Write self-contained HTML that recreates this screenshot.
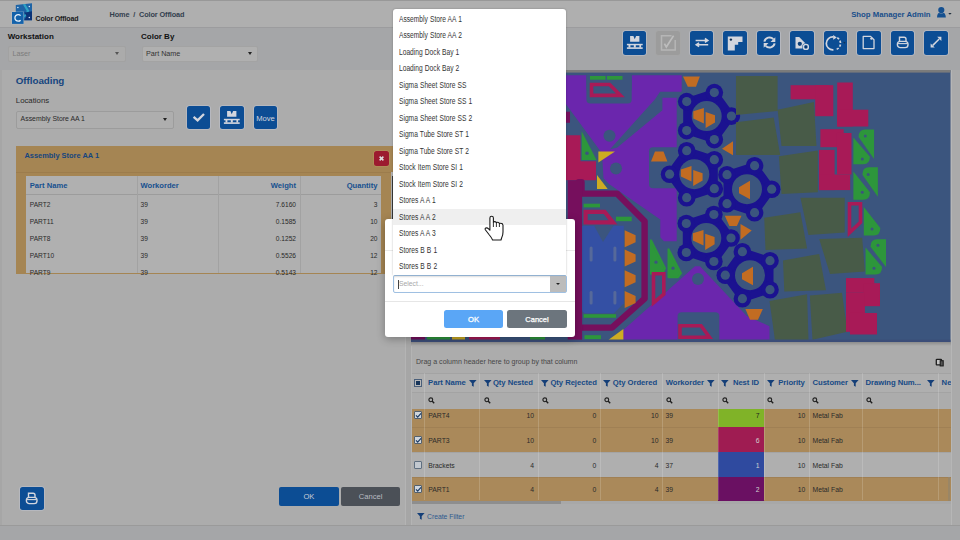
<!DOCTYPE html>
<html><head><meta charset="utf-8">
<style>
*{box-sizing:border-box;margin:0;padding:0}
html,body{width:960px;height:540px;overflow:hidden;background:#a6a6a6;font-family:"Liberation Sans",sans-serif;color:#333}
.a{position:absolute}
.t{position:absolute;line-height:1;white-space:nowrap}
.b{font-weight:bold}
.btn{position:absolute;width:23.6px;height:23.6px;background:#0c4d94;border-radius:2.5px;box-shadow:0 0 0 .8px #b9bcc4}
.btn svg{position:absolute;left:0;top:0}
.sel{position:absolute;background:#afafaf;border:1px solid #9c9c9c;border-radius:2px}
.car{position:absolute;width:0;height:0;border-left:2.5px solid transparent;border-right:2.5px solid transparent;border-top:3px solid #222}
.dd div{position:absolute;left:0;width:173px;height:16.5px;font-size:8.4px;line-height:17.8px;color:#333}.dd span{position:absolute;left:5.3px;top:0;white-space:nowrap;word-spacing:.3px;transform:scaleX(.795);transform-origin:0 0}
</style></head><body>
<div id="page" class="a" style="left:0;top:0;width:960px;height:540px">
  <!-- header -->
  <div class="a" style="left:0;top:0;width:960px;height:28px;background:#afafaf;border-top:1.5px solid #989898;border-bottom:1px solid #9c9c9e"></div>
  <!-- toolbar row -->
  <div class="a" style="left:0;top:28px;width:960px;height:42px;background:#a5a6a8"></div>

  <!-- logo -->
  <svg class="a" style="left:8px;top:0px" width="32" height="28" viewBox="8 0 32 28">
    <polygon points="15.8,4.9 32,3.3 32,20.2 24,20.2 24,11.9 15.8,11.9" fill="#1e64a6"/>
    <polygon points="22.8,4.3 25.2,4.1 29.4,11 24.6,17.4 23,17 26.8,11" fill="#2fa3c4"/>
    <polygon points="24.2,12.5 28,12 32,11.2 32,20.2 24.2,20.2 26.6,16" fill="#0b3377"/>
    <circle cx="17.9" cy="7.5" r=".75" fill="#d8ecff"/><circle cx="29.3" cy="6.5" r=".75" fill="#d8ecff"/>
    <circle cx="29.3" cy="17.6" r=".75" fill="#d8ecff"/>
    <rect x="11.6" y="11.6" width="12.4" height="12.6" fill="#cfe0f0" opacity=".5"/>
    <rect x="12" y="12" width="11.6" height="11.9" fill="#1462aa"/>
    <path d="M20.6,15.6 A3.3,3.3 0 1 0 20.6,20.2" stroke="#e8f2fb" stroke-width="1.3" fill="none"/>
  </svg>
  <div class="t b" style="left:35.5px;top:14.5px;font-size:7px;letter-spacing:-0.15px;color:#1b1b1b">Color Offload</div>
  <div class="t" style="left:109.5px;top:11px;font-size:7.3px;color:#33404e;font-weight:bold;letter-spacing:-0.1px">Home&nbsp;&nbsp;/&nbsp;&nbsp;Color Offload</div>
  <div class="t b" style="left:851.2px;top:11.1px;font-size:7.75px;color:#184e8a">Shop Manager Admin</div>
  <svg class="a" style="left:936px;top:6px" width="18" height="13" viewBox="0 0 18 13">
    <path d="M1,11.6 Q1,6.2 5.3,6.2 Q9.8,6.2 9.8,11.6 Z" fill="#15508f"/>
    <circle cx="5.3" cy="4.1" r="3.5" fill="#b0b4ba"/>
    <circle cx="5.3" cy="4.1" r="3.1" fill="#15508f"/>
    <polygon points="12.3,7 15.6,7 13.95,8.8" fill="#1a2a3a"/>
  </svg>
  <!-- toolbar -->
  <div class="t b" style="left:7.7px;top:33.2px;font-size:8px;color:#111">Workstation</div>
  <div class="sel" style="left:7.5px;top:45.8px;width:118px;height:16.2px;background:#ababab;border-color:#a2a2a2"></div>
  <div class="t" style="left:12.5px;top:50px;font-size:7.2px;color:#7c7c7c">Laser</div>
  <div class="car" style="left:114.5px;top:52.4px;border-top-color:#555"></div>
  <div class="t b" style="left:141px;top:33.2px;font-size:8px;color:#111">Color By</div>
  <div class="sel" style="left:141.5px;top:45.5px;width:116.5px;height:16.3px;background:#b0b0b0;border-color:#a3a3a3"></div>
  <div class="t" style="left:146px;top:50px;font-size:7.2px;color:#333">Part Name</div>
  <div class="car" style="left:247.5px;top:52px"></div>
  <!-- right toolbar buttons -->
  <div class="btn" style="left:622.5px;top:31px"><svg width="24" height="24" viewBox="0 0 24 24"><path d="M7.1,5.1H10.4L11.75,8.3L13.1,5.1H16.4V10.8H7.1Z" fill="#d3d6de"/><rect x="3.9" y="12.8" width="15.8" height="1.5" fill="#d3d6de"/><rect x="3.9" y="16.3" width="15.8" height="1.6" fill="#d3d6de"/><rect x="5.5" y="14" width="1.9" height="2.6" fill="#d3d6de"/><rect x="10.8" y="14" width="2" height="2.6" fill="#d3d6de"/><rect x="16.4" y="14" width="1.7" height="2.6" fill="#d3d6de"/></svg></div>
  <div class="btn" style="left:656px;top:31px;background:#9c9c9c;box-shadow:0 0 0 .8px #a6a6a6"><svg width="24" height="24" viewBox="0 0 24 24"><path d="M15.6,4.7H5.5V19H19.2V9" fill="none" stroke="#b6b6b6" stroke-width="1.5"/><path d="M8.4,12.6L10.3,16L17.6,4.6" fill="none" stroke="#bdbdbd" stroke-width="1.7"/></svg></div>
  <div class="btn" style="left:689.5px;top:31px"><svg width="24" height="24" viewBox="0 0 24 24"><path d="M5.6,9.4H17M14.9,7.5L17.8,9.4L14.9,11.3" fill="none" stroke="#d3d6de" stroke-width="1.5"/><path d="M18.2,13.8H6.8M9.1,11.9L6.2,13.8L9.1,15.7" fill="none" stroke="#d3d6de" stroke-width="1.5"/></svg></div>
  <div class="btn" style="left:723px;top:31px"><svg width="24" height="24" viewBox="0 0 24 24"><path d="M4.8,5.6H19.5V10.9H15.2V13.8H11.8V19.6H4.8Z" fill="#d3d6de"/><circle cx="7.9" cy="8.6" r="1.2" fill="#0a2a50"/></svg></div>
  <div class="btn" style="left:756.5px;top:31px"><svg width="24" height="24" viewBox="0 0 24 24"><path d="M7.38,10.6A5.2,5.2 0 0 1 16.3,8.1" fill="none" stroke="#d3d6de" stroke-width="2"/><path d="M18.3,6.2V11H13.5Z" fill="#d3d6de"/><path d="M17.62,12.4A5.2,5.2 0 0 1 8.7,14.9" fill="none" stroke="#d3d6de" stroke-width="2"/><path d="M6.7,16.8V12H11.5Z" fill="#d3d6de"/></svg></div>
  <div class="btn" style="left:790px;top:31px"><svg width="24" height="24" viewBox="0 0 24 24"><path d="M5.5,6H9.2L15.6,12.4L12.6,17.6H5.5Z" fill="#d3d6de"/><circle cx="9.8" cy="12.8" r="2.1" fill="#0c3f7a"/><circle cx="15.9" cy="15.9" r="3.6" fill="#0c4d94"/><circle cx="15.9" cy="15.9" r="2.5" fill="none" stroke="#d3d6de" stroke-width="1.4"/><circle cx="15.9" cy="15.9" r="1" fill="#0c3060"/></svg></div>
  <div class="btn" style="left:823.5px;top:31px"><svg width="24" height="24" viewBox="0 0 24 24"><path d="M9.43,5.93A6.5,6.5 0 1 0 9.43,18.87" fill="none" stroke="#d3d6de" stroke-width="1.7"/><path d="M13.25,6.77A6.5,6.5 0 0 1 11.13,18.8" fill="none" stroke="#d3d6de" stroke-width="1.7" stroke-dasharray="2.3 1.6"/><path d="M9.2,4V8.8L12.8,6.4Z" fill="#d3d6de"/><path d="M19.4,11.4H21.4L20.4,12.6Z" fill="#1a1a1a"/></svg></div>
  <div class="btn" style="left:857px;top:31px"><svg width="24" height="24" viewBox="0 0 24 24"><path d="M6.2,5.4H13.6L17,8.8V17.6H6.2Z" fill="none" stroke="#d3d6de" stroke-width="1.3" stroke-linejoin="round"/><circle cx="14.4" cy="7.6" r="1.2" fill="#d3d6de"/></svg></div>
  <div class="btn" style="left:890.5px;top:31px"><svg width="24" height="24" viewBox="0 0 24 24"><path d="M8.5,10.6V6.2H13.1Q15,6.2 15,8.1V10.6" fill="none" stroke="#d3d6de" stroke-width="1.4"/><rect x="6.4" y="10.4" width="10.6" height="6.2" rx="2.9" fill="none" stroke="#d3d6de" stroke-width="1.4"/><path d="M7,12.6H16.4" stroke="#d3d6de" stroke-width="1.1"/></svg></div>
  <div class="btn" style="left:924px;top:31px"><svg width="24" height="24" viewBox="0 0 24 24"><path d="M8.8,14.4L15.2,8" stroke="#d3d6de" stroke-width="1.5"/><path d="M13.2,5.8H17.4V10Z" fill="#d3d6de"/><path d="M6.6,12.4V16.6H10.8Z" fill="#d3d6de"/></svg></div>
  <!-- left panel -->
  <div class="a" style="left:1.5px;top:70px;width:404.7px;height:454.7px;background:#acacac;border-right:1px solid #b4b4b4"></div>

  <!-- left panel content -->
  <div class="t b" style="left:15.8px;top:75.9px;font-size:9.8px;color:#16467f;letter-spacing:-0.05px">Offloading</div>
  <div class="t" style="left:15.8px;top:96.8px;font-size:7.8px;color:#2a2a2a">Locations</div>
  <div class="sel" style="left:16px;top:110.5px;width:157.5px;height:18px;background:#aeaeae;border-color:#9c9c9c"></div>
  <div class="t" style="left:20.6px;top:116px;font-size:6.9px;color:#2a2a2a">Assembly Store AA 1</div>
  <div class="car" style="left:162.5px;top:118px"></div>
  <div class="btn" style="left:186.8px;top:105.8px"><svg width="24" height="24" viewBox="0 0 24 24"><path d="M6.6,10.8L10.6,14.4L17,8" fill="none" stroke="#d3d6de" stroke-width="2.3"/></svg></div>
  <div class="btn" style="left:220.3px;top:105.8px"><svg width="24" height="24" viewBox="0 0 24 24"><path d="M7.1,5.1H10.4L11.75,8.3L13.1,5.1H16.4V10.8H7.1Z" fill="#d3d6de"/><rect x="3.9" y="12.8" width="15.8" height="1.5" fill="#d3d6de"/><rect x="3.9" y="16.3" width="15.8" height="1.6" fill="#d3d6de"/><rect x="5.5" y="14" width="1.9" height="2.6" fill="#d3d6de"/><rect x="10.8" y="14" width="2" height="2.6" fill="#d3d6de"/><rect x="16.4" y="14" width="1.7" height="2.6" fill="#d3d6de"/></svg></div>
  <div class="btn" style="left:253.8px;top:105.8px"></div>
  <div class="t" style="left:256.2px;top:114.6px;font-size:7.65px;color:#d3d6de">Move</div>

  <!-- orange panel -->
  <div class="a" style="left:16px;top:146.3px;width:377px;height:128px;background:#a58553"></div>
  <div class="a" style="left:16px;top:171.5px;width:377px;height:1px;background:#9c7c4c"></div>
  <div class="t b" style="left:24.4px;top:152.4px;font-size:7.45px;color:#16467f">Assembly Store AA 1</div>
  <div class="a" style="left:373.8px;top:151px;width:14.8px;height:15px;background:#9c1b2f;border-radius:2.5px;box-shadow:0 0 0 .6px #b8945e"></div>
  <svg class="a" style="left:373.8px;top:151px" width="15" height="15" viewBox="0 0 15 15"><path d="M5.6,5.6L9.4,9.4M9.4,5.6L5.6,9.4" stroke="#dcdcdc" stroke-width="1.5"/></svg>
  <!-- table -->
  <div class="a" style="left:26px;top:175.8px;width:355px;height:97px;background:#b0b0b0;overflow:hidden">
    <div class="a" style="left:0;top:18.2px;width:355px;height:1px;background:#9c9c9c"></div>
    <div class="a" style="left:110.5px;top:0;width:1px;height:98px;background:#a2a2a2"></div>
    <div class="a" style="left:191.6px;top:0;width:1px;height:98px;background:#a2a2a2"></div>
    <div class="a" style="left:274px;top:0;width:1px;height:98px;background:#a2a2a2"></div>
  </div>
  <div class="a" style="left:390.7px;top:172px;width:2.5px;height:101.6px;background:#b0b0b0"></div><div class="a" style="left:391.9px;top:176px;width:1.8px;height:60px;background:#3a3a3a"></div>
  <div class="t b" style="left:29.8px;top:182.2px;font-size:7.6px;color:#17508f">Part Name</div>
  <div class="t b" style="left:140.5px;top:182.2px;font-size:7.6px;color:#17508f">Workorder</div>
  <div class="t b" style="right:664px;top:182.2px;font-size:7.6px;color:#17508f">Weight</div>
  <div class="t b" style="right:582.5px;top:182.2px;font-size:7.6px;color:#17508f">Quantity</div>
  <div class="t" style="left:29.8px;top:201.90px;font-size:6.6px;color:#2a2a2a">PART2</div>
  <div class="t" style="left:140.5px;top:201.90px;font-size:6.6px;color:#2a2a2a">39</div>
  <div class="t" style="right:664px;top:201.90px;font-size:6.6px;color:#2a2a2a">7.6160</div>
  <div class="t" style="right:582.5px;top:201.90px;font-size:6.6px;color:#2a2a2a">3</div>
  <div class="t" style="left:29.8px;top:219.00px;font-size:6.6px;color:#2a2a2a">PART11</div>
  <div class="t" style="left:140.5px;top:219.00px;font-size:6.6px;color:#2a2a2a">39</div>
  <div class="t" style="right:664px;top:219.00px;font-size:6.6px;color:#2a2a2a">0.1585</div>
  <div class="t" style="right:582.5px;top:219.00px;font-size:6.6px;color:#2a2a2a">10</div>
  <div class="t" style="left:29.8px;top:236.00px;font-size:6.6px;color:#2a2a2a">PART8</div>
  <div class="t" style="left:140.5px;top:236.00px;font-size:6.6px;color:#2a2a2a">39</div>
  <div class="t" style="right:664px;top:236.00px;font-size:6.6px;color:#2a2a2a">0.1252</div>
  <div class="t" style="right:582.5px;top:236.00px;font-size:6.6px;color:#2a2a2a">20</div>
  <div class="t" style="left:29.8px;top:253.10px;font-size:6.6px;color:#2a2a2a">PART10</div>
  <div class="t" style="left:140.5px;top:253.10px;font-size:6.6px;color:#2a2a2a">39</div>
  <div class="t" style="right:664px;top:253.10px;font-size:6.6px;color:#2a2a2a">0.5526</div>
  <div class="t" style="right:582.5px;top:253.10px;font-size:6.6px;color:#2a2a2a">12</div>
  <div class="t" style="left:29.8px;top:270.10px;font-size:6.6px;color:#2a2a2a">PART9</div>
  <div class="t" style="left:140.5px;top:270.10px;font-size:6.6px;color:#2a2a2a">39</div>
  <div class="t" style="right:664px;top:270.10px;font-size:6.6px;color:#2a2a2a">0.5143</div>
  <div class="t" style="right:582.5px;top:270.10px;font-size:6.6px;color:#2a2a2a">12</div>

  <!-- left bottom buttons -->
  <div class="btn" style="left:20px;top:486.8px"><svg width="24" height="24" viewBox="0 0 24 24"><path d="M8.5,10.6V6.2H13.1Q15,6.2 15,8.1V10.6" fill="none" stroke="#d3d6de" stroke-width="1.4"/><rect x="6.4" y="10.4" width="10.6" height="6.2" rx="2.9" fill="none" stroke="#d3d6de" stroke-width="1.4"/><path d="M7,12.6H16.4" stroke="#d3d6de" stroke-width="1.1"/></svg></div>
  <div class="a" style="left:279px;top:486.8px;width:59.8px;height:18.8px;background:#0c4d94;border-radius:2px"></div>
  <div class="t" style="left:279px;width:59.8px;text-align:center;top:492.6px;font-size:7.6px;color:#c9cdd6">OK</div>
  <div class="a" style="left:340.8px;top:486.8px;width:59.6px;height:18.8px;background:#4b5057;border-radius:2px"></div>
  <div class="t" style="left:340.8px;width:59.6px;text-align:center;top:492.6px;font-size:7.6px;color:#b8bcc2">Cancel</div>
  <!-- right panel -->
  <div class="a" style="left:950.5px;top:70px;width:9.5px;height:454.7px;background:#aaaaaa;border-left:1px solid #b6b6b6"></div>
  <div class="a" style="left:411px;top:70px;width:539.5px;height:454.7px;background:#acacac;border-left:1px solid #b4b4b4"></div>

  <!-- nest --><svg class="a" style="left:411px;top:69.8px" width="539.5" height="273.2" viewBox="411 69.8 539.5 273.2"><rect x="411.0" y="70.0" width="539.5" height="273.0" fill="#3b557e"/><rect x="427.0" y="336.0" width="23.0" height="3.5" fill="#2d963b"/><rect x="452.0" y="336.0" width="13.0" height="3.5" fill="#cdac22"/><rect x="469.0" y="336.0" width="31.0" height="3.5" fill="#a81a57"/><rect x="530.0" y="336.0" width="15.0" height="3.5" fill="#2d963b"/><rect x="411.0" y="336.0" width="14.0" height="3.5" fill="#760f5d"/><polygon points="566.0,75.0 681.7,75.0 681.7,91.0 676.7,97.5 676.7,241.0 664.0,241.0 660.3,237.0 660.3,219.4 609.0,183.8 603.5,178.0 602.0,153.0 566.0,104.0" fill="#6b26ad" stroke="#6b26ad" stroke-width="0"/><rect x="586.4" y="73.0" width="45.3" height="30.2" fill="#3b557e" rx="4"/><rect x="586.4" y="73.0" width="45.3" height="17.0" fill="#3b557e"/><polygon points="681.7,91.5 681.7,97.6 662.4,97.6 662.4,110.0 617.0,147.5 610.0,149.0 655.0,99.0 660.0,91.5" fill="#3b557e"/><rect x="649.0" y="147.0" width="31.0" height="41.0" fill="#3b557e" rx="4"/><polygon points="655.0,151.2 663.5,151.2 667.4,161.4 651.0,161.4" fill="#c26c22"/><circle cx="609.5" cy="135.6" r="6.0" fill="#3b557e"/><circle cx="616.0" cy="168.3" r="6.0" fill="#3b557e"/><polygon points="623.0,339.5 623.0,330.0 695.0,266.0 700.0,266.0 747.0,316.0 769.5,326.0 769.5,339.5" fill="#6b26ad"/><rect x="677.6" y="312.0" width="41.7" height="30.0" fill="#3b557e" rx="4"/><circle cx="698.0" cy="278.7" r="6.0" fill="#3b557e"/><path d="M680,325.5H701L709.5,337H680Z" fill="none" stroke="#a81a57" stroke-width="3.6"/><rect x="590.0" y="75.8" width="15.5" height="3.7" fill="#2d963b"/><rect x="607.0" y="75.8" width="15.5" height="3.7" fill="#2d963b"/><path d="M591.5,84.3H609.6L620.5,95.2H591.5Z" fill="none" stroke="#a81a57" stroke-width="3.6"/><rect x="566.0" y="111.5" width="4.0" height="11.1" fill="#760f5d"/><polygon points="566.0,135.0 580.5,135.0 580.5,161.0 596.0,161.0 596.0,180.0 566.0,180.0" fill="#a81a57"/><polygon points="581.7,131.0 596.5,159.7 581.7,159.7" fill="#2d963b"/><circle cx="587.0" cy="153.0" r="1.8" fill="#3b557e"/><polygon points="598.4,151.3 615.0,151.3 598.4,162.4" fill="#cdac22"/><polygon points="597.0,174.8 607.7,188.7 597.0,188.7" fill="#cdac22"/><path d="M578.9,339.5V182H581.5V193.4H617L644.6,221V298.5L612,327.4H578.9" fill="none" stroke="#760f5d" stroke-width="6.4" stroke-linejoin="round"/><rect x="567.7" y="180.0" width="14.3" height="159.5" fill="#760f5d"/><rect x="583.6" y="203.5" width="16.4" height="3.7" fill="#2d963b"/><path d="M585.6,211.6H604.6L613,222.2H585.6Z" fill="none" stroke="#a81a57" stroke-width="4.2"/><rect x="616.0" y="216.5" width="15.7" height="4.5" fill="#2d963b"/><path d="M582.2,225.6H623.8V303L614,313.1H586.2Q582.2,313.1 582.2,309Z" fill="#3450a4"/><polygon points="594.1,225.6 613.4,225.6 603.0,241.9" fill="#3b557e"/><rect x="589.6" y="246.4" width="3.0" height="14.8" fill="#56699a" rx="1.5"/><rect x="589.6" y="290.9" width="3.0" height="13.3" fill="#56699a" rx="1.5"/><rect x="613.4" y="246.4" width="3.0" height="14.8" fill="#56699a" rx="1.5"/><rect x="613.4" y="290.9" width="3.0" height="13.3" fill="#56699a" rx="1.5"/><rect x="583.6" y="314.0" width="32.4" height="3.6" fill="#2d963b"/><polygon points="624.7,230.0 635.6,235.0 635.6,242.0 624.7,247.0" fill="#c26c22"/><polygon points="624.7,249.3 635.6,254.3 635.6,261.3 624.7,266.3" fill="#c26c22"/><polygon points="624.7,270.1 635.6,275.1 635.6,282.1 624.7,287.1" fill="#c26c22"/><polygon points="624.7,290.9 635.6,295.9 635.6,302.9 624.7,307.9" fill="#c26c22"/><rect x="584.5" y="335.0" width="16.5" height="4.0" fill="#2d963b"/><polygon points="608.6,339.5 623.4,328.7 623.4,339.5" fill="#cdac22"/><polygon points="651.0,240.0 665.0,268.0 662.0,273.5 651.0,273.5" fill="#2d963b" stroke="#2d963b" stroke-width="2" stroke-linejoin="round"/><polygon points="668.5,249.0 681.0,273.0 678.0,277.0 668.5,277.0" fill="#2d963b" stroke="#2d963b" stroke-width="2" stroke-linejoin="round"/><circle cx="656.0" cy="262.0" r="1.6" fill="#3b557e"/><circle cx="673.0" cy="268.0" r="1.6" fill="#3b557e"/><path d="M653.5,273.6H663.8V294L653.5,302.6Z" fill="none" stroke="#a81a57" stroke-width="3.6"/><polygon points="683.0,76.3 699.8,76.3 696.0,86.5 687.8,86.5" fill="#c26c22"/><polygon points="731.4,115.9 714.3,139.4 686.7,130.4 686.7,101.4 714.3,92.4" fill="#1b1290" stroke="#1b1290" stroke-width="7" stroke-linejoin="round"/><circle cx="731.4" cy="115.9" r="8.8" fill="#1b1290"/><circle cx="714.3" cy="139.4" r="8.8" fill="#1b1290"/><circle cx="686.7" cy="130.4" r="8.8" fill="#1b1290"/><circle cx="686.7" cy="101.4" r="8.8" fill="#1b1290"/><circle cx="714.3" cy="92.4" r="8.8" fill="#1b1290"/><circle cx="706.7" cy="115.9" r="15.0" fill="#3b557e"/><circle cx="731.4" cy="115.9" r="4.6" fill="#3b557e"/><circle cx="714.3" cy="139.4" r="4.6" fill="#3b557e"/><circle cx="686.7" cy="130.4" r="4.6" fill="#3b557e"/><circle cx="686.7" cy="101.4" r="4.6" fill="#3b557e"/><circle cx="714.3" cy="92.4" r="4.6" fill="#3b557e"/><polygon points="693.3,111.1 703.9,107.8 703.9,123.3 693.3,118.3" fill="#c26c22"/><polygon points="705.6,111.7 715.0,115.0 715.0,122.2 705.6,127.8" fill="#c26c22"/><polygon points="669.6,174.0 686.7,150.5 714.3,159.5 714.3,188.5 686.7,197.5" fill="#1b1290" stroke="#1b1290" stroke-width="7" stroke-linejoin="round"/><circle cx="669.6" cy="174.0" r="8.8" fill="#1b1290"/><circle cx="686.7" cy="150.5" r="8.8" fill="#1b1290"/><circle cx="714.3" cy="159.5" r="8.8" fill="#1b1290"/><circle cx="714.3" cy="188.5" r="8.8" fill="#1b1290"/><circle cx="686.7" cy="197.5" r="8.8" fill="#1b1290"/><circle cx="694.3" cy="174.0" r="15.0" fill="#3b557e"/><circle cx="669.6" cy="174.0" r="4.6" fill="#3b557e"/><circle cx="686.7" cy="150.5" r="4.6" fill="#3b557e"/><circle cx="714.3" cy="159.5" r="4.6" fill="#3b557e"/><circle cx="714.3" cy="188.5" r="4.6" fill="#3b557e"/><circle cx="686.7" cy="197.5" r="4.6" fill="#3b557e"/><polygon points="680.9,169.2 691.5,165.9 691.5,181.4 680.9,176.4" fill="#c26c22"/><polygon points="693.2,169.8 702.6,173.1 702.6,180.3 693.2,185.9" fill="#c26c22"/><polygon points="771.7,189.0 754.6,212.5 727.0,203.5 727.0,174.5 754.6,165.5" fill="#1b1290" stroke="#1b1290" stroke-width="7" stroke-linejoin="round"/><circle cx="771.7" cy="189.0" r="8.8" fill="#1b1290"/><circle cx="754.6" cy="212.5" r="8.8" fill="#1b1290"/><circle cx="727.0" cy="203.5" r="8.8" fill="#1b1290"/><circle cx="727.0" cy="174.5" r="8.8" fill="#1b1290"/><circle cx="754.6" cy="165.5" r="8.8" fill="#1b1290"/><circle cx="747.0" cy="189.0" r="15.0" fill="#3b557e"/><circle cx="771.7" cy="189.0" r="4.6" fill="#3b557e"/><circle cx="754.6" cy="212.5" r="4.6" fill="#3b557e"/><circle cx="727.0" cy="203.5" r="4.6" fill="#3b557e"/><circle cx="727.0" cy="174.5" r="4.6" fill="#3b557e"/><circle cx="754.6" cy="165.5" r="4.6" fill="#3b557e"/><polygon points="739.0,187.0 750.0,180.5 750.0,199.0 739.0,193.0" fill="#c26c22"/><polygon points="731.0,237.8 713.9,261.3 686.3,252.3 686.3,223.3 713.9,214.3" fill="#1b1290" stroke="#1b1290" stroke-width="7" stroke-linejoin="round"/><circle cx="731.0" cy="237.8" r="8.8" fill="#1b1290"/><circle cx="713.9" cy="261.3" r="8.8" fill="#1b1290"/><circle cx="686.3" cy="252.3" r="8.8" fill="#1b1290"/><circle cx="686.3" cy="223.3" r="8.8" fill="#1b1290"/><circle cx="713.9" cy="214.3" r="8.8" fill="#1b1290"/><circle cx="706.3" cy="237.8" r="15.0" fill="#3b557e"/><circle cx="731.0" cy="237.8" r="4.6" fill="#3b557e"/><circle cx="713.9" cy="261.3" r="4.6" fill="#3b557e"/><circle cx="686.3" cy="252.3" r="4.6" fill="#3b557e"/><circle cx="686.3" cy="223.3" r="4.6" fill="#3b557e"/><circle cx="713.9" cy="214.3" r="4.6" fill="#3b557e"/><polygon points="692.9,233.0 703.5,229.7 703.5,245.2 692.9,240.2" fill="#c26c22"/><polygon points="705.2,233.6 714.6,236.9 714.6,244.1 705.2,249.7" fill="#c26c22"/><polygon points="725.3,275.0 742.4,251.5 770.0,260.5 770.0,289.5 742.4,298.5" fill="#1b1290" stroke="#1b1290" stroke-width="7" stroke-linejoin="round"/><circle cx="725.3" cy="275.0" r="8.8" fill="#1b1290"/><circle cx="742.4" cy="251.5" r="8.8" fill="#1b1290"/><circle cx="770.0" cy="260.5" r="8.8" fill="#1b1290"/><circle cx="770.0" cy="289.5" r="8.8" fill="#1b1290"/><circle cx="742.4" cy="298.5" r="8.8" fill="#1b1290"/><circle cx="750.0" cy="275.0" r="15.0" fill="#3b557e"/><circle cx="725.3" cy="275.0" r="4.6" fill="#3b557e"/><circle cx="742.4" cy="251.5" r="4.6" fill="#3b557e"/><circle cx="770.0" cy="260.5" r="4.6" fill="#3b557e"/><circle cx="770.0" cy="289.5" r="4.6" fill="#3b557e"/><circle cx="742.4" cy="298.5" r="4.6" fill="#3b557e"/><polygon points="742.0,273.0 753.0,266.5 753.0,285.0 742.0,279.0" fill="#c26c22"/><polygon points="722.0,148.5 733.0,141.0 733.0,155.0" fill="#c26c22"/><polygon points="724.8,215.5 741.5,215.5 736.9,225.7 729.4,225.7" fill="#c26c22"/><polygon points="740.5,223.9 751.7,230.4 740.5,239.6" fill="#c26c22"/><polygon points="745.4,308.8 762.8,308.8 758.0,319.5 750.0,319.5" fill="#c26c22"/><polygon points="736.0,75.8 777.6,75.8 777.6,110.8 736.0,114.7" fill="#485b48"/><polygon points="777.6,109.5 813.9,101.7 816.5,145.8 781.5,145.8" fill="#485b48"/><polygon points="736.0,122.0 773.7,117.3 780.2,154.9 736.0,154.9" fill="#485b48"/><polygon points="778.9,156.0 817.8,150.4 817.8,192.0 781.5,193.7" fill="#485b48"/><polygon points="800.4,197.6 844.7,197.6 844.7,232.2 808.5,234.9" fill="#485b48"/><polygon points="764.2,217.5 800.4,212.0 807.1,248.3 765.5,249.7" fill="#485b48"/><polygon points="819.2,238.9 862.2,237.6 864.9,271.2 830.0,273.8" fill="#485b48"/><polygon points="783.0,260.4 819.2,253.7 826.0,290.0 784.3,291.3" fill="#485b48"/><polygon points="769.5,300.7 807.1,294.0 808.5,339.5 774.9,339.5" fill="#485b48"/><polygon points="809.8,295.3 842.0,292.6 847.4,331.6 812.5,339.5" fill="#485b48"/><rect x="790.6" y="85.0" width="38.8" height="14.1" fill="#a81a57"/><rect x="815.2" y="85.0" width="18.1" height="31.0" fill="#a81a57"/><rect x="837.2" y="82.3" width="15.6" height="44.0" fill="#a81a57"/><rect x="837.2" y="109.5" width="31.1" height="16.8" fill="#a81a57"/><rect x="820.4" y="129.0" width="23.3" height="18.0" fill="#a81a57"/><rect x="837.0" y="132.8" width="14.5" height="41.5" fill="#a81a57"/><rect x="819.0" y="149.7" width="15.6" height="40.2" fill="#a81a57"/><rect x="819.0" y="174.3" width="31.2" height="15.6" fill="#a81a57"/><rect x="846.0" y="277.9" width="28.3" height="14.7" fill="#a81a57"/><rect x="863.5" y="283.0" width="16.5" height="23.0" fill="#a81a57"/><rect x="846.0" y="292.6" width="18.9" height="39.0" fill="#a81a57"/><rect x="850.0" y="312.8" width="27.0" height="21.5" fill="#a81a57"/><path d="M849.5,203.5H860.5V222L849.5,232.5Z" fill="none" stroke="#a81a57" stroke-width="3.6"/><path d="M874.1,129.2V158.8L858.6,136.7Q858.6,129.2 865.1,129.2Z" fill="#2d963b"/><path d="M853.4,137.3V164.0H863.4Q869.9,164.0 869.9,156.5Z" fill="#2d963b"/><path d="M877.9,167.0V196.6L862.4,174.5Q862.4,167.0 868.9,167.0Z" fill="#2d963b"/><path d="M853.4,171.4V199.6H863.4Q869.9,199.6 869.9,192.1Z" fill="#2d963b"/><path d="M863.8,206.7V235.4H873.8Q880.3,235.4 880.3,227.9Z" fill="#2d963b"/><path d="M886.0,239.0V266.9L870.5,246.5Q870.5,239.0 877.0,239.0Z" fill="#2d963b"/><path d="M865.6,247.4V274.3H875.6Q882.1,274.3 882.1,266.8Z" fill="#2d963b"/><circle cx="865.3" cy="135.9" r="1.5" fill="#3b557e"/><circle cx="862.3" cy="158.8" r="1.5" fill="#3b557e"/><circle cx="868.2" cy="174.4" r="1.5" fill="#3b557e"/><circle cx="862.3" cy="192.1" r="1.5" fill="#3b557e"/><circle cx="872.0" cy="228.9" r="1.5" fill="#3b557e"/><circle cx="878.0" cy="245.0" r="1.5" fill="#3b557e"/><circle cx="874.0" cy="268.0" r="1.5" fill="#3b557e"/><rect x="411.0" y="69.8" width="539.5" height="2.6" fill="#7b7b7b"/><rect x="411.0" y="339.5" width="539.5" height="2.7" fill="#3b4d78"/></svg><!-- /nest -->
  <div class="a" style="left:411px;top:342.2px;width:539.5px;height:3.5px;background:linear-gradient(#8c8c8c,#acacac)"></div>
  <!-- grid -->
  <div class="t" style="left:416px;top:358.3px;font-size:7.05px;color:#474747">Drag a column header here to group by that column</div>
  <svg class="a" style="left:934.5px;top:357.5px" width="10" height="9" viewBox="0 0 10 9"><rect x="1.3" y="1.3" width="5.2" height="5.6" rx=".6" fill="#c4c4c4" stroke="#1e1e1e" stroke-width="1.3"/><rect x="5.2" y="2.7" width="3" height="5.2" fill="#555" stroke="#1e1e1e" stroke-width="1.1"/></svg>
  <div class="a" style="left:411.6px;top:373.3px;width:539px;height:19px;background:#afafaf;border-top:1px solid #a3a3a3"></div>
  <div class="a" style="left:411.6px;top:392.3px;width:539px;height:16.7px;background:#acacac;border-top:1px solid #a3a3a3"></div>
  <div class="a" style="left:411.6px;top:409px;width:539px;height:91.5px;overflow:hidden">
    <div class="a" style="left:0;top:-6.5px;width:539px;height:24.5px;background:#aa895a;border-top:1px solid rgba(0,0,0,.06)"></div>
    <div class="a" style="left:306.4px;top:-6.5px;width:45.60000000000002px;height:24.5px;background:#80b328"></div>
    <div class="a" style="left:0;top:18px;width:539px;height:25px;background:#aa895a;border-top:1px solid rgba(0,0,0,.06)"></div>
    <div class="a" style="left:306.4px;top:18px;width:45.60000000000002px;height:25px;background:#9f1c52"></div>
    <div class="a" style="left:0;top:43px;width:539px;height:24.5px;background:#afafaf;border-top:1px solid rgba(0,0,0,.06)"></div>
    <div class="a" style="left:306.4px;top:43px;width:45.60000000000002px;height:24.5px;background:#2f4a9f"></div>
    <div class="a" style="left:0;top:67.5px;width:539px;height:24.0px;background:#aa895a;border-top:1px solid rgba(0,0,0,.06)"></div>
    <div class="a" style="left:306.4px;top:67.5px;width:45.60000000000002px;height:24.0px;background:#6a1062"></div>
  </div>
  <div class="a" style="left:424px;top:373.3px;width:1px;height:127.2px;background:rgba(255,255,255,.16)"></div>
  <div class="a" style="left:479.2px;top:373.3px;width:1px;height:127.2px;background:rgba(255,255,255,.16)"></div>
  <div class="a" style="left:537.5px;top:373.3px;width:1px;height:127.2px;background:rgba(255,255,255,.16)"></div>
  <div class="a" style="left:599.5px;top:373.3px;width:1px;height:127.2px;background:rgba(255,255,255,.16)"></div>
  <div class="a" style="left:661.5px;top:373.3px;width:1px;height:127.2px;background:rgba(255,255,255,.16)"></div>
  <div class="a" style="left:718px;top:373.3px;width:1px;height:127.2px;background:rgba(255,255,255,.16)"></div>
  <div class="a" style="left:763.6px;top:373.3px;width:1px;height:127.2px;background:rgba(255,255,255,.16)"></div>
  <div class="a" style="left:808.6px;top:373.3px;width:1px;height:127.2px;background:rgba(255,255,255,.16)"></div>
  <div class="a" style="left:861.7px;top:373.3px;width:1px;height:127.2px;background:rgba(255,255,255,.16)"></div>
  <div class="a" style="left:938px;top:373.3px;width:1px;height:127.2px;background:rgba(255,255,255,.16)"></div>
  <div class="a" style="left:414.1px;top:378.8px;width:7.8px;height:8.6px;border:1.2px solid #4a5f7a;background:#b8b8b8"></div>
  <div class="a" style="left:416.4px;top:381.2px;width:3.2px;height:3.8px;background:#17355a"></div>
  <div class="t b" style="left:428.1px;top:379.3px;font-size:7.7px;color:#174a85;letter-spacing:-0.05px">Part Name</div>
  <svg class="a" style="left:468.6px;top:380.2px" width="8" height="7" viewBox="0 0 8 7"><path d="M0,0H7.6L4.7,3.2V6.8L2.9,5.8V3.2Z" fill="#153f78"/></svg>
  <svg class="a" style="left:483.8px;top:380.2px" width="8" height="7" viewBox="0 0 8 7"><path d="M0,0H7.6L4.7,3.2V6.8L2.9,5.8V3.2Z" fill="#153f78"/></svg>
  <div class="t b" style="left:492.9px;top:379.3px;font-size:7.7px;color:#174a85;letter-spacing:-0.05px">Qty Nested</div>
  <svg class="a" style="left:541px;top:380.2px" width="8" height="7" viewBox="0 0 8 7"><path d="M0,0H7.6L4.7,3.2V6.8L2.9,5.8V3.2Z" fill="#153f78"/></svg>
  <div class="t b" style="left:550.4px;top:379.3px;font-size:7.7px;color:#174a85;letter-spacing:-0.05px">Qty Rejected</div>
  <svg class="a" style="left:603.3px;top:380.2px" width="8" height="7" viewBox="0 0 8 7"><path d="M0,0H7.6L4.7,3.2V6.8L2.9,5.8V3.2Z" fill="#153f78"/></svg>
  <div class="t b" style="left:612.8px;top:379.3px;font-size:7.7px;color:#174a85;letter-spacing:-0.05px">Qty Ordered</div>
  <div class="t b" style="left:665.7px;top:379.3px;font-size:7.7px;color:#174a85;letter-spacing:-0.05px">Workorder</div>
  <svg class="a" style="left:706.9px;top:380.2px" width="8" height="7" viewBox="0 0 8 7"><path d="M0,0H7.6L4.7,3.2V6.8L2.9,5.8V3.2Z" fill="#153f78"/></svg>
  <svg class="a" style="left:721.4px;top:380.2px" width="8" height="7" viewBox="0 0 8 7"><path d="M0,0H7.6L4.7,3.2V6.8L2.9,5.8V3.2Z" fill="#153f78"/></svg>
  <div class="t b" style="left:732.9px;top:379.3px;font-size:7.7px;color:#174a85;letter-spacing:-0.05px">Nest ID</div>
  <svg class="a" style="left:767.3px;top:380.2px" width="8" height="7" viewBox="0 0 8 7"><path d="M0,0H7.6L4.7,3.2V6.8L2.9,5.8V3.2Z" fill="#153f78"/></svg>
  <div class="t b" style="left:778.3px;top:379.3px;font-size:7.7px;color:#174a85;letter-spacing:-0.05px">Priority</div>
  <div class="t b" style="left:812.5px;top:379.3px;font-size:7.7px;color:#174a85;letter-spacing:-0.05px">Customer</div>
  <svg class="a" style="left:850.8px;top:380.2px" width="8" height="7" viewBox="0 0 8 7"><path d="M0,0H7.6L4.7,3.2V6.8L2.9,5.8V3.2Z" fill="#153f78"/></svg>
  <div class="t b" style="left:865.6px;top:379.3px;font-size:7.7px;color:#174a85;letter-spacing:-0.05px">Drawing Num...</div>
  <svg class="a" style="left:926.8px;top:380.2px" width="8" height="7" viewBox="0 0 8 7"><path d="M0,0H7.6L4.7,3.2V6.8L2.9,5.8V3.2Z" fill="#153f78"/></svg>
  <div class="a" style="left:938px;top:373.3px;width:12.5px;height:19px;overflow:hidden"><div class="t b" style="left:3.6px;top:6px;font-size:7.7px;color:#174a85">Nest Count</div></div>
  <svg class="a" style="left:428.4px;top:397.4px" width="7" height="7" viewBox="0 0 7 7"><circle cx="2.8" cy="2.8" r="1.9" fill="none" stroke="#1e1e1e" stroke-width="1.1"/><path d="M4.1,4.1L6.2,6.2" stroke="#1e1e1e" stroke-width="1.4"/></svg>
  <svg class="a" style="left:483.6px;top:397.4px" width="7" height="7" viewBox="0 0 7 7"><circle cx="2.8" cy="2.8" r="1.9" fill="none" stroke="#1e1e1e" stroke-width="1.1"/><path d="M4.1,4.1L6.2,6.2" stroke="#1e1e1e" stroke-width="1.4"/></svg>
  <svg class="a" style="left:541.5px;top:397.4px" width="7" height="7" viewBox="0 0 7 7"><circle cx="2.8" cy="2.8" r="1.9" fill="none" stroke="#1e1e1e" stroke-width="1.1"/><path d="M4.1,4.1L6.2,6.2" stroke="#1e1e1e" stroke-width="1.4"/></svg>
  <svg class="a" style="left:603.6px;top:397.4px" width="7" height="7" viewBox="0 0 7 7"><circle cx="2.8" cy="2.8" r="1.9" fill="none" stroke="#1e1e1e" stroke-width="1.1"/><path d="M4.1,4.1L6.2,6.2" stroke="#1e1e1e" stroke-width="1.4"/></svg>
  <svg class="a" style="left:665.8px;top:397.4px" width="7" height="7" viewBox="0 0 7 7"><circle cx="2.8" cy="2.8" r="1.9" fill="none" stroke="#1e1e1e" stroke-width="1.1"/><path d="M4.1,4.1L6.2,6.2" stroke="#1e1e1e" stroke-width="1.4"/></svg>
  <svg class="a" style="left:721.6px;top:397.4px" width="7" height="7" viewBox="0 0 7 7"><circle cx="2.8" cy="2.8" r="1.9" fill="none" stroke="#1e1e1e" stroke-width="1.1"/><path d="M4.1,4.1L6.2,6.2" stroke="#1e1e1e" stroke-width="1.4"/></svg>
  <svg class="a" style="left:767.4px;top:397.4px" width="7" height="7" viewBox="0 0 7 7"><circle cx="2.8" cy="2.8" r="1.9" fill="none" stroke="#1e1e1e" stroke-width="1.1"/><path d="M4.1,4.1L6.2,6.2" stroke="#1e1e1e" stroke-width="1.4"/></svg>
  <svg class="a" style="left:812.4px;top:397.4px" width="7" height="7" viewBox="0 0 7 7"><circle cx="2.8" cy="2.8" r="1.9" fill="none" stroke="#1e1e1e" stroke-width="1.1"/><path d="M4.1,4.1L6.2,6.2" stroke="#1e1e1e" stroke-width="1.4"/></svg>
  <svg class="a" style="left:865.6px;top:397.4px" width="7" height="7" viewBox="0 0 7 7"><circle cx="2.8" cy="2.8" r="1.9" fill="none" stroke="#1e1e1e" stroke-width="1.1"/><path d="M4.1,4.1L6.2,6.2" stroke="#1e1e1e" stroke-width="1.4"/></svg>
  <div class="a" style="left:414.3px;top:411.20px;width:8.2px;height:8.2px;border:1.1px solid #53616f;background:#cfd5dc;border-radius:1px"></div>
  <svg class="a" style="left:414.3px;top:411.20px" width="9" height="9" viewBox="0 0 9 9"><path d="M2,4.4L3.7,6.2L7,2.4" fill="none" stroke="#1d3d66" stroke-width="1.2"/></svg>
  <div class="t" style="left:428.3px;top:413.05px;font-size:6.8px;color:#2a2a2a">PART4</div>
  <div class="t" style="right:426px;top:413.05px;font-size:6.8px;color:#2a2a2a">10</div>
  <div class="t" style="right:363.79999999999995px;top:413.05px;font-size:6.8px;color:#2a2a2a">0</div>
  <div class="t" style="right:301.5px;top:413.05px;font-size:6.8px;color:#2a2a2a">10</div>
  <div class="t" style="left:665.6px;top:413.05px;font-size:6.8px;color:#2a2a2a">39</div>
  <div class="t" style="right:200.39999999999998px;top:413.05px;font-size:6.8px;color:#1e1e1e">7</div>
  <div class="t" style="right:154.70000000000005px;top:413.05px;font-size:6.8px;color:#2a2a2a">10</div>
  <div class="t" style="left:812.5px;top:413.05px;font-size:6.8px;color:#2a2a2a">Metal Fab</div>
  <div class="a" style="left:414.3px;top:435.90px;width:8.2px;height:8.2px;border:1.1px solid #53616f;background:#cfd5dc;border-radius:1px"></div>
  <svg class="a" style="left:414.3px;top:435.90px" width="9" height="9" viewBox="0 0 9 9"><path d="M2,4.4L3.7,6.2L7,2.4" fill="none" stroke="#1d3d66" stroke-width="1.2"/></svg>
  <div class="t" style="left:428.3px;top:437.85px;font-size:6.8px;color:#2a2a2a">PART3</div>
  <div class="t" style="right:426px;top:437.85px;font-size:6.8px;color:#2a2a2a">10</div>
  <div class="t" style="right:363.79999999999995px;top:437.85px;font-size:6.8px;color:#2a2a2a">0</div>
  <div class="t" style="right:301.5px;top:437.85px;font-size:6.8px;color:#2a2a2a">10</div>
  <div class="t" style="left:665.6px;top:437.85px;font-size:6.8px;color:#2a2a2a">39</div>
  <div class="t" style="right:200.39999999999998px;top:437.85px;font-size:6.8px;color:#d0d0d0">6</div>
  <div class="t" style="right:154.70000000000005px;top:437.85px;font-size:6.8px;color:#2a2a2a">10</div>
  <div class="t" style="left:812.5px;top:437.85px;font-size:6.8px;color:#2a2a2a">Metal Fab</div>
  <div class="a" style="left:414.3px;top:460.70px;width:8.2px;height:8.2px;border:1.1px solid #5f6f80;background:#c2c8cf;border-radius:1px"></div>
  <div class="t" style="left:428.3px;top:462.55px;font-size:6.8px;color:#2a2a2a">Brackets</div>
  <div class="t" style="right:426px;top:462.55px;font-size:6.8px;color:#2a2a2a">4</div>
  <div class="t" style="right:363.79999999999995px;top:462.55px;font-size:6.8px;color:#2a2a2a">0</div>
  <div class="t" style="right:301.5px;top:462.55px;font-size:6.8px;color:#2a2a2a">4</div>
  <div class="t" style="left:665.6px;top:462.55px;font-size:6.8px;color:#2a2a2a">37</div>
  <div class="t" style="right:200.39999999999998px;top:462.55px;font-size:6.8px;color:#d0d0d0">1</div>
  <div class="t" style="right:154.70000000000005px;top:462.55px;font-size:6.8px;color:#2a2a2a">10</div>
  <div class="t" style="left:812.5px;top:462.55px;font-size:6.8px;color:#2a2a2a">Metal Fab</div>
  <div class="a" style="left:414.3px;top:484.90px;width:8.2px;height:8.2px;border:1.1px solid #53616f;background:#cfd5dc;border-radius:1px"></div>
  <svg class="a" style="left:414.3px;top:484.90px" width="9" height="9" viewBox="0 0 9 9"><path d="M2,4.4L3.7,6.2L7,2.4" fill="none" stroke="#1d3d66" stroke-width="1.2"/></svg>
  <div class="t" style="left:428.3px;top:486.85px;font-size:6.8px;color:#2a2a2a">PART1</div>
  <div class="t" style="right:426px;top:486.85px;font-size:6.8px;color:#2a2a2a">4</div>
  <div class="t" style="right:363.79999999999995px;top:486.85px;font-size:6.8px;color:#2a2a2a">0</div>
  <div class="t" style="right:301.5px;top:486.85px;font-size:6.8px;color:#2a2a2a">4</div>
  <div class="t" style="left:665.6px;top:486.85px;font-size:6.8px;color:#2a2a2a">39</div>
  <div class="t" style="right:200.39999999999998px;top:486.85px;font-size:6.8px;color:#d0d0d0">2</div>
  <div class="t" style="right:154.70000000000005px;top:486.85px;font-size:6.8px;color:#2a2a2a">10</div>
  <div class="t" style="left:812.5px;top:486.85px;font-size:6.8px;color:#2a2a2a">Metal Fab</div>
  <div class="a" style="left:411.6px;top:500.5px;width:539px;height:3.2px;background:#a8a8a8"></div>
  <div class="a" style="left:412px;top:500.5px;width:149px;height:3.2px;background:#8e8e8e"></div>
  <div class="a" style="left:947.5px;top:476.5px;width:2.5px;height:24px;background:#9a8666"></div>
  <svg class="a" style="left:416.8px;top:512.6px" width="8" height="7" viewBox="0 0 8 7"><path d="M0,0H7.6L4.7,3.2V6.8L2.9,5.8V3.2Z" fill="#153f78"/></svg>
  <div class="t" style="left:427px;top:513.6px;font-size:6.8px;color:#2e5a8e">Create Filter</div>
  <!-- bottom strip -->
  <div class="a" style="left:0;top:525px;width:960px;height:15px;background:#a5a6a8;border-top:1.4px solid #9a9a9a"></div>
</div>

<!-- modal -->
<div class="a" style="left:385.2px;top:218.7px;width:189.8px;height:118.8px;background:#fff;border-radius:3px;box-shadow:0 2px 8px rgba(0,0,0,.3)"></div>
<div class="a" style="left:385.2px;top:250.3px;width:189.8px;height:1px;background:#e9e9e9"></div>
<div class="a" style="left:385.2px;top:300.5px;width:189.8px;height:1px;background:#e6e6e6"></div>
<div class="a" style="left:393.3px;top:275.2px;width:173.4px;height:17.7px;background:#fff;border:1px solid #9fc0e2;border-radius:2px;box-shadow:inset 0 1px 2px rgba(0,0,0,.12)"></div>
<div class="a" style="left:549.7px;top:276.2px;width:16px;height:15.7px;background:#bcbcbc"></div>
<div class="car" style="left:555.6px;top:283px;border-left-width:2.3px;border-right-width:2.3px;border-top-width:2.6px"></div>
<div class="a" style="left:398.2px;top:279.5px;width:.8px;height:9px;background:#444"></div>
<div class="t" style="left:399px;top:280.6px;font-size:6.8px;color:#a8a8a8">Select...</div>
<div class="a" style="left:443.7px;top:310px;width:59.6px;height:18.3px;background:#5aa6f6;border-radius:2.5px"></div>
<div class="t" style="left:443.7px;width:59.6px;text-align:center;top:315.6px;font-size:7.6px;color:#fff;-webkit-text-stroke:.3px #fff">OK</div>
<div class="a" style="left:507px;top:310px;width:60px;height:18.3px;background:#6c757d;border-radius:2.5px"></div>
<div class="t" style="left:507px;width:60px;text-align:center;top:315.6px;font-size:7.5px;color:#fff;-webkit-text-stroke:.25px #fff">Cancel</div>
<!-- dropdown -->
<div class="a dd" style="left:393.4px;top:9.3px;width:173px;height:265.9px;background:#fff;border-radius:3px 3px 0 0;box-shadow:0 0 2px rgba(0,0,0,.3)">
  <div style="top:1.60px"><span>Assembly Store AA 1</span></div>
  <div style="top:18.10px"><span>Assembly Store AA 2</span></div>
  <div style="top:34.60px"><span>Loading Dock Bay 1</span></div>
  <div style="top:51.10px"><span>Loading Dock Bay 2</span></div>
  <div style="top:67.60px"><span>Sigma Sheet Store SS</span></div>
  <div style="top:84.10px"><span>Sigma Sheet Store SS 1</span></div>
  <div style="top:100.60px"><span>Sigma Sheet Store SS 2</span></div>
  <div style="top:117.10px"><span>Sigma Tube Store ST 1</span></div>
  <div style="top:133.60px"><span>Sigma Tube Store ST 2</span></div>
  <div style="top:150.10px"><span>Stock Item Store SI 1</span></div>
  <div style="top:166.60px"><span>Stock Item Store SI 2</span></div>
  <div style="top:183.10px"><span>Stores A A 1</span></div>
  <div style="top:199.60px;background:#efefef"><span>Stores A A 2</span></div>
  <div style="top:216.10px"><span>Stores A A 3</span></div>
  <div style="top:232.60px"><span>Stores B B 1</span></div>
  <div style="top:249.10px"><span>Stores B B 2</span></div>
</div>
<!-- cursor -->
<svg class="a" style="left:484px;top:215px" width="22" height="27" viewBox="0 0 22 27"><path d="M7.6,1.2Q9.4,1.2 9.4,3V7.5Q9.6,6.6 10.8,6.6Q12.2,6.6 12.4,7.8Q12.8,7.2 13.8,7.2Q15.2,7.2 15.4,8.6Q15.8,8.2 16.7,8.2Q18.8,8.2 19,10.2V17Q19,20.5 17.6,23L17,25H8.6Q7.5,22.5 5,19.5L1.5,15Q0.6,13.6 1.8,13Q3.2,12.4 4.6,13.8L5.9,15.2V3Q5.9,1.2 7.6,1.2Z" fill="#fff" stroke="#1a1a1a" stroke-width="1.1" stroke-linejoin="round"/><path d="M9.4,7.5V12M12.4,7.8V12M15.4,8.6V12" stroke="#1a1a1a" stroke-width=".9"/></svg>
</body></html>
